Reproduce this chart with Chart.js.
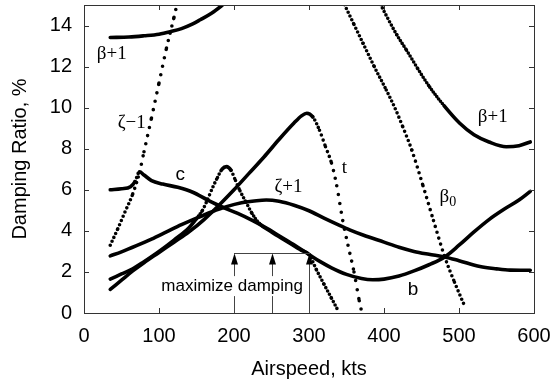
<!DOCTYPE html>
<html>
<head>
<meta charset="utf-8">
<script src="https://cdn.jsdelivr.net/npm/chart.js@4.4.0/dist/chart.umd.min.js"></script>
<style>
  html, body { margin: 0; padding: 0; background: #fff; }
</style>
</head>
<body>
<canvas id="dampChart" width="555" height="387"></canvas>
<script>
// axis ticks
const xTicks = [0, 100, 200, 300, 400, 500, 600];
const yTicks = [0, 2, 4, 6, 8, 10, 12, 14];

// beta+1, low speed branch
const betaLoKts = [35, 60, 80, 100, 115, 130, 145, 155, 170, 183, 188];
const betaLoPct = [13.42, 13.44, 13.5, 13.58, 13.7, 13.85, 14.08, 14.28, 14.6, 14.95, 15.1];

// zeta-1
const zetaMKts = [35, 45, 55, 65, 74, 80, 90, 100, 110, 120, 125];
const zetaMPct = [3.3, 4.1, 4.95, 5.8, 6.85, 7.85, 9.5, 11.2, 12.9, 14.4, 15.2];

// c mode running into b
const cbKts = [35, 50, 62, 68, 74, 80, 90, 105, 125, 145, 165, 185, 205, 225, 245, 265, 285, 300, 315, 330, 350, 370, 385, 400, 420, 440, 460, 481, 500, 520, 540, 560, 580, 595];
const cbPct = [6.0, 6.05, 6.15, 6.4, 6.88, 6.72, 6.45, 6.28, 6.12, 5.88, 5.5, 5.15, 4.85, 4.5, 4.1, 3.65, 3.2, 2.85, 2.5, 2.2, 1.88, 1.68, 1.62, 1.65, 1.8, 2.05, 2.35, 2.73, 3.3, 3.95, 4.55, 5.05, 5.5, 5.92];

// t mode
const tKts = [35, 50, 65, 80, 100, 120, 140, 160, 180, 200, 220, 240, 260, 280, 290, 297, 305, 314, 322, 330, 337, 345, 352, 360, 367, 370];
const tPct = [1.15, 1.6, 2.05, 2.45, 2.95, 3.45, 3.95, 4.55, 5.25, 6.0, 6.8, 7.6, 8.45, 9.25, 9.6, 9.73, 9.55, 8.9, 8.1, 7.3, 6.2, 4.5, 3.3, 2.0, 0.6, 0.1];

// mode with the hump near 190 kts
const humpKts = [35, 50, 65, 80, 100, 120, 140, 150, 158, 165, 172, 178, 184, 190, 196, 202, 208, 216, 224, 234, 250, 270, 290, 300, 310, 320, 330, 339];
const humpPct = [1.65, 1.9, 2.15, 2.5, 3.0, 3.55, 4.15, 4.6, 5.0, 5.55, 6.15, 6.6, 7.0, 7.13, 6.95, 6.45, 5.95, 5.4, 4.85, 4.35, 3.95, 3.5, 3.05, 2.85, 2.1, 1.4, 0.72, 0.1];

// zeta+1
const zetaPKts = [35, 50, 70, 90, 110, 130, 150, 170, 190, 210, 230, 243, 260, 280, 300, 320, 340, 355, 372, 400, 420, 440, 460, 481, 500, 528, 550, 568, 595];
const zetaPPct = [2.78, 2.98, 3.28, 3.6, 3.95, 4.3, 4.62, 4.92, 5.18, 5.37, 5.47, 5.5, 5.44, 5.25, 4.98, 4.62, 4.28, 4.04, 3.8, 3.45, 3.2, 3.0, 2.86, 2.73, 2.55, 2.26, 2.15, 2.09, 2.08];

// beta+1, high speed branch
const betaHiKts = [393, 405, 417, 430, 445, 461, 480, 501, 520, 540, 563, 580, 595];
const betaHiPct = [15.2, 14.35, 13.55, 12.8, 11.9, 11.0, 10.1, 9.24, 8.68, 8.33, 8.1, 8.15, 8.33];

// beta0
const beta0Kts = [345, 360, 372, 387, 403, 415, 425, 437, 452, 466, 481, 494, 508];
const beta0Pct = [15.2, 14.05, 13.14, 12.0, 10.86, 9.95, 9.07, 7.94, 6.2, 4.5, 2.73, 1.5, 0.3];

// "maximize damping" marker
const maxDampKts = [200, 250, 300];
const maxDampLevel = 2.94;

const series = [
  [betaLoKts, betaLoPct],
  [zetaMKts, zetaMPct],
  [cbKts, cbPct],
  [tKts, tPct],
  [humpKts, humpPct],
  [zetaPKts, zetaPPct],
  [betaHiKts, betaHiPct],
  [beta0Kts, beta0Pct]
];

// steep stretches break up into dots, flat ones stay solid
const dotStep = 1.8;
function dotPattern(seg) {
  const dx = Math.abs(seg.p1.x - seg.p0.x);
  const dy = Math.abs(seg.p1.y - seg.p0.y);
  const gap = dotStep * Math.hypot(dx, dy) / Math.max(dx, 0.5);
  return gap > 2.9 ? [0, Math.min(gap, 9)] : undefined;
}

const datasets = series.map(([kts, pct]) => ({
  data: kts.map((k, i) => ({ x: k, y: pct[i] })),
  borderColor: '#000',
  borderWidth: 3.6,
  borderCapStyle: 'round',
  borderJoinStyle: 'round',
  pointRadius: 0,
  cubicInterpolationMode: 'monotone',
  clip: 0,
  segment: { borderDash: dotPattern }
}));

// curve names, placed at (kts, %) of the text's left baseline
const curveLabels = [
  { text: 'β+1', x: 17, y: 12.37, serif: true },
  { text: 'ζ−1', x: 45, y: 9.01, serif: true },
  { text: 'c', x: 122, y: 6.48, serif: false },
  { text: 'ζ+1', x: 254, y: 5.89, serif: true },
  { text: 't', x: 343.6, y: 6.82, serif: true },
  { text: 'β+1', x: 525, y: 9.3, serif: true },
  { text: 'β', sub: '0', x: 474, y: 5.41, serif: true },
  { text: 'b', x: 431.6, y: 0.88, serif: false }
];

const frameAndNotes = {
  id: 'frameAndNotes',
  afterDatasetsDraw(chart) {
    const { ctx, chartArea: a, scales: { x, y } } = chart;
    ctx.save();

    // box and inward ticks on all four sides
    ctx.strokeStyle = '#333';
    ctx.lineWidth = 1;
    ctx.strokeRect(Math.round(a.left) + 0.5, Math.round(a.top) + 0.5,
      Math.round(a.right - a.left), Math.round(a.bottom - a.top));
    ctx.beginPath();
    xTicks.forEach(v => {
      const px = Math.round(x.getPixelForValue(v)) + 0.5;
      ctx.moveTo(px, a.bottom); ctx.lineTo(px, a.bottom - 5);
      ctx.moveTo(px, a.top); ctx.lineTo(px, a.top + 5);
    });
    yTicks.forEach(v => {
      const py = Math.round(y.getPixelForValue(v)) + 0.5;
      ctx.moveTo(a.left, py); ctx.lineTo(a.left + 5, py);
      ctx.moveTo(a.right, py); ctx.lineTo(a.right - 5, py);
    });
    ctx.stroke();

    // maximize damping bracket with arrows
    const topY = Math.round(y.getPixelForValue(maxDampLevel)) + 0.5;
    const baseY = y.getPixelForValue(0);
    ctx.strokeStyle = '#444';
    ctx.fillStyle = '#000';
    ctx.beginPath();
    ctx.moveTo(x.getPixelForValue(maxDampKts[0]), topY);
    ctx.lineTo(x.getPixelForValue(maxDampKts[maxDampKts.length - 1]) + 1, topY);
    maxDampKts.forEach(k => {
      const px = Math.round(x.getPixelForValue(k)) + 0.5;
      ctx.moveTo(px, baseY);
      ctx.lineTo(px, topY + 8);
    });
    ctx.stroke();
    maxDampKts.forEach(k => {
      const px = Math.round(x.getPixelForValue(k)) + 0.5;
      ctx.beginPath();
      ctx.moveTo(px, topY);
      ctx.lineTo(px - 3.5, topY + 11);
      ctx.lineTo(px + 3.5, topY + 11);
      ctx.closePath();
      ctx.fill();
    });
    ctx.font = '17px "Liberation Sans", Arial, sans-serif';
    ctx.textAlign = 'center';
    ctx.textBaseline = 'middle';
    const noteX = x.getPixelForValue(197.5);
    const noteY = y.getPixelForValue(1.31);
    const w = ctx.measureText('maximize damping').width;
    ctx.fillStyle = '#fff';
    ctx.fillRect(noteX - w / 2 - 2, noteY - 10, w + 4, 20);
    ctx.fillStyle = '#000';
    ctx.fillText('maximize damping', noteX, noteY);

    // curve names
    ctx.textAlign = 'left';
    ctx.textBaseline = 'alphabetic';
    curveLabels.forEach(l => {
      const px = x.getPixelForValue(l.x);
      const py = y.getPixelForValue(l.y);
      ctx.font = l.serif ? '19px "Liberation Serif", "Times New Roman", serif'
                         : '19px "Liberation Sans", Arial, sans-serif';
      ctx.fillText(l.text, px, py);
      if (l.sub) {
        const tw = ctx.measureText(l.text).width;
        ctx.font = '14px "Liberation Serif", "Times New Roman", serif';
        ctx.fillText(l.sub, px + tw, py + 4);
      }
    });
    ctx.restore();
  }
};

const tickFont = { family: '"Liberation Sans", Arial, sans-serif', size: 20 };
const titleFont = { family: '"Liberation Sans", Arial, sans-serif', size: 20 };

const ctx = document.getElementById('dampChart').getContext('2d');
const chart = new Chart(ctx, {
  type: 'line',
  data: { datasets: datasets },
  options: {
    responsive: false,
    animation: false,
    events: [],
    layout: { padding: { top: 5, right: 21, left: 0, bottom: 0 } },
    plugins: { legend: { display: false }, tooltip: { enabled: false } },
    scales: {
      x: {
        type: 'linear',
        min: 0,
        max: 600,
        afterBuildTicks: s => { s.ticks = xTicks.map(v => ({ value: v })); },
        afterFit: s => { s.height = 74; s.paddingLeft = 0; s.paddingRight = 0; },
        ticks: { font: tickFont, color: '#000', padding: 11, maxRotation: 0 },
        grid: { display: false, drawTicks: false },
        border: { display: false },
        title: { display: true, text: 'Airspeed, kts', font: titleFont, color: '#000', padding: { top: 0, bottom: 6 } }
      },
      y: {
        type: 'linear',
        min: 0,
        max: 15,
        afterBuildTicks: s => { s.ticks = yTicks.map(v => ({ value: v })); },
        afterFit: s => { s.width = 84; s.paddingTop = 0; s.paddingBottom = 0; },
        ticks: { font: tickFont, color: '#000', padding: 12 },
        grid: { display: false, drawTicks: false },
        border: { display: false },
        title: { display: true, text: 'Damping Ratio, %', font: titleFont, color: '#000', padding: { top: 8, bottom: 0 } }
      }
    }
  },
  plugins: [frameAndNotes]
});
</script>
</body>
</html>
